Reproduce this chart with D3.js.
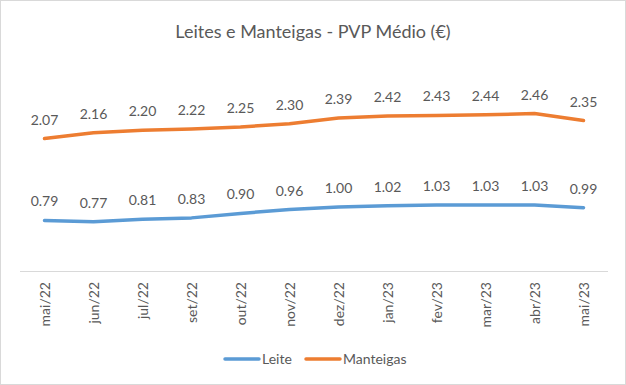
<!DOCTYPE html>
<html>
<head>
<meta charset="utf-8">
<script src="https://cdn.jsdelivr.net/npm/d3@7"></script>
<style>
  body { margin: 0; background: #fff; }
  svg { display: block; font-family: Lato, "Liberation Sans", sans-serif; }
</style>
</head>
<body>
<div id="chart"></div>
<script>
// Data
const months = ['mai/22', 'jun/22', 'jul/22', 'set/22', 'out/22', 'nov/22', 'dez/22', 'jan/23', 'fev/23', 'mar/23', 'abr/23', 'mai/23'];
const leite = [0.79, 0.77, 0.81, 0.83, 0.90, 0.96, 1.00, 1.02, 1.03, 1.03, 1.03, 0.99];
const manteigas = [2.07, 2.16, 2.20, 2.22, 2.25, 2.30, 2.39, 2.42, 2.43, 2.44, 2.46, 2.35];
const seriesNames = ['Leite', 'Manteigas'];
const colors = ['#5B9BD5', '#ED7D31'];

const width = 626;
const height = 385;

const svg = d3.select('#chart')
    .append('svg')
    .attr('width', width)
    .attr('height', height);

// outer border
svg.append('rect')
    .attr('x', 0.5).attr('y', 0.5)
    .attr('width', width - 1).attr('height', height - 1)
    .attr('fill', '#fff')
    .attr('stroke', '#d9d9d9');

// title
svg.append('text')
    .attr('x', 313)
    .attr('y', 38)
    .attr('text-anchor', 'middle')
    .attr('font-size', '18px')
    .attr('fill', '#595959')
    .text('Leites e Manteigas - PVP Médio (€)');

// scales
const x = d3.scalePoint()
    .domain(months)
    .range([20, 608])
    .padding(0.5);

const y = d3.scaleLinear()
    .domain([0, 3])
    .range([271, 79]);

// category axis
const xAxis = svg.append('g')
    .attr('transform', `translate(0, ${y(0)})`)
    .call(d3.axisBottom(x).tickSize(0).tickPadding(0));
xAxis.select('.domain')
    .attr('d', 'M20,0.5H608')
    .attr('stroke', '#d9d9d9')
    .attr('stroke-width', 1);
xAxis.selectAll('text')
    .attr('transform', 'rotate(-90)')
    .attr('x', -11)
    .attr('y', 0)
    .attr('dy', '0.35em')
    .attr('text-anchor', 'end')
    .attr('font-size', '14px')
    .attr('font-family', 'Lato, sans-serif')
    .attr('fill', '#595959');

// lines + labels
const line = d3.line()
    .x((d, i) => x(months[i]))
    .y(d => y(d));

[leite, manteigas].forEach((values, s) => {
    svg.append('path')
        .datum(values)
        .attr('d', line)
        .attr('fill', 'none')
        .attr('stroke', colors[s])
        .attr('stroke-width', 3.5)
        .attr('stroke-linejoin', 'round')
        .attr('stroke-linecap', 'round');

    svg.append('g')
        .selectAll('text')
        .data(values)
        .enter()
        .append('text')
        .attr('x', (d, i) => x(months[i]))
        .attr('y', d => y(d) - 14)
        .attr('text-anchor', 'middle')
        .attr('font-size', '14px')
        .attr('fill', '#595959')
        .text(d => d.toFixed(2));
});

// legend
const legendItems = [
    { name: seriesNames[0], color: colors[0], x: 225 },
    { name: seriesNames[1], color: colors[1], x: 306 }
];
const legend = svg.append('g')
    .attr('transform', 'translate(0, 359)');
legendItems.forEach(item => {
    legend.append('line')
        .attr('x1', item.x).attr('x2', item.x + 34)
        .attr('y1', 0).attr('y2', 0)
        .attr('stroke', item.color)
        .attr('stroke-width', 3.5)
        .attr('stroke-linecap', 'round');
    legend.append('text')
        .attr('x', item.x + 37)
        .attr('y', 5)
        .attr('font-size', '14px')
        .attr('fill', '#595959')
        .text(item.name);
});
</script>
</body>
</html>
